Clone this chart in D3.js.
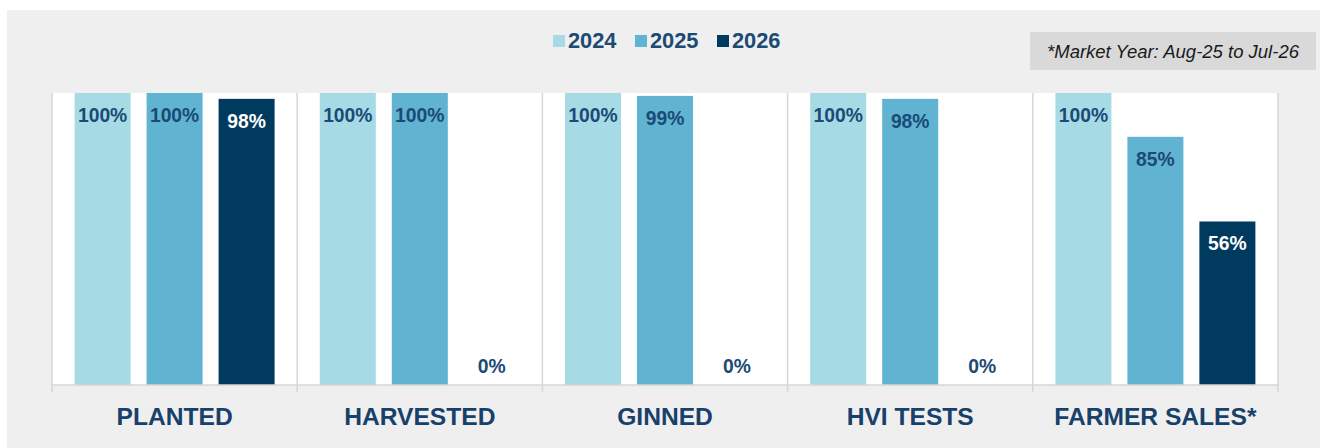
<!DOCTYPE html>
<html><head><meta charset="utf-8">
<script src="https://cdn.jsdelivr.net/npm/d3@7"></script>
<style>
html,body{margin:0;padding:0;background:#fff;}
svg{display:block;font-family:Arial,"Liberation Sans",sans-serif;}
</style></head>
<body>
<svg id="chart" width="1325" height="448"></svg>
<script>
const categories = ["PLANTED","HARVESTED","GINNED","HVI TESTS","FARMER SALES*"];
const seriesNames = ["2024","2025","2026"];
const values2024 = [1.00,1.00,1.00,1.00,1.00];
const values2025 = [1.00,1.00,0.99,0.98,0.85];
const values2026 = [0.98,0.00,0.00,0.00,0.56];
const seriesColors = ["#a6dbe6","#60b4d2","#003a5e"];
const note = "*Market Year: Aug-25 to Jul-26";

const series = [values2024, values2025, values2026];
const svg = d3.select("#chart");
const W = 1325, H = 448;
const plot = {left:52, right:1278, top:93, bottom:385};
const textDark = "#1b4a74";

// background
svg.append("rect").attr("x",0).attr("y",0).attr("width",W).attr("height",H).attr("fill","#ffffff");
svg.append("rect").attr("x",7).attr("y",10).attr("width",1313).attr("height",H-10).attr("fill","#efefef");

const x0 = d3.scaleBand().domain(categories).range([plot.left, plot.right]).paddingInner(0).paddingOuter(0);
const x1 = d3.scaleBand().domain(seriesNames).range([0, x0.bandwidth()]).paddingInner(0.222).paddingOuter(0.314);
const y = d3.scaleLinear().domain([0,1]).range([plot.bottom, plot.top]);

// plot area
svg.append("rect").attr("x",plot.left).attr("y",plot.top).attr("width",plot.right-plot.left).attr("height",plot.bottom-plot.top).attr("fill","#ffffff");

// category separators (incl. edges)
const bounds = categories.map(c => x0(c)).concat([plot.right]);
svg.append("g").selectAll("line").data(bounds).join("line")
  .attr("x1",d=>d).attr("x2",d=>d).attr("y1",plot.top).attr("y2",plot.bottom+7)
  .attr("stroke","#d6d6d6").attr("stroke-width",1.5);

// bars
const groups = svg.append("g").selectAll("g").data(categories).join("g")
  .attr("transform", c => `translate(${x0(c)},0)`);
groups.each(function(c, ci){
  const g = d3.select(this);
  seriesNames.forEach((s, si) => {
    const v = series[si][ci];
    g.append("rect").attr("x", x1(s)).attr("y", y(v)).attr("width", x1.bandwidth())
      .attr("height", plot.bottom - y(v)).attr("fill", seriesColors[si]);
    const label = Math.round(v*100) + "%";
    const inside = v > 0.05;
    g.append("text").attr("x", x1(s) + x1.bandwidth()/2)
      .attr("y", inside ? y(v) + 29 : y(v) - 12.5)
      .attr("text-anchor","middle").attr("font-size","19.3px").attr("font-weight","bold")
      .attr("fill", (inside && si === 2) ? "#ffffff" : textDark)
      .text(label);
  });
});

// axis line
svg.append("line").attr("x1",plot.left).attr("x2",plot.right).attr("y1",plot.bottom).attr("y2",plot.bottom)
  .attr("stroke","#d6d6d6").attr("stroke-width",1.5);

// category labels
svg.append("g").selectAll("text").data(categories).join("text")
  .attr("x", c => x0(c) + x0.bandwidth()/2).attr("y", 424.5)
  .attr("text-anchor","middle").attr("font-size","24.6px").attr("font-weight","bold")
  .attr("fill","#17406a").text(c => c);

// legend
const legendPos = [553, 635, 717];
const legend = svg.append("g").selectAll("g").data(seriesNames).join("g")
  .attr("transform",(d,i)=>`translate(${legendPos[i]},0)`);
legend.append("rect").attr("x",0).attr("y",35).attr("width",12).attr("height",12).attr("fill",(d,i)=>seriesColors[i]);
legend.append("text").attr("x",15).attr("y",48).attr("font-size","21.8px").attr("font-weight","bold")
  .attr("fill",textDark).text(d=>d);

// note box
svg.append("rect").attr("x",1030).attr("y",32).attr("width",286).attr("height",38).attr("fill","#d9d9d9");
svg.append("text").attr("x",1173).attr("y",58).attr("text-anchor","middle").attr("font-size","18.5px")
  .attr("font-style","italic").attr("fill","#1a1a1a").text(note);
</script>
</body></html>
